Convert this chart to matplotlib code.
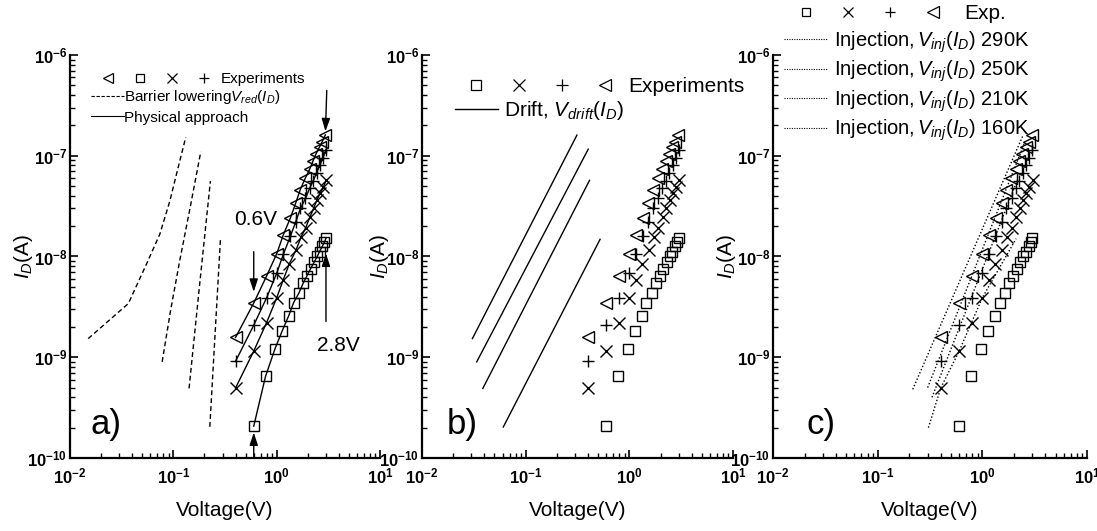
import matplotlib
matplotlib.use('Agg')
import matplotlib.pyplot as plt
from matplotlib.lines import Line2D
from matplotlib.legend_handler import HandlerTuple
from matplotlib.ticker import NullFormatter

plt.rcParams['font.family'] = 'Liberation Sans'
plt.rcParams['mathtext.fontset'] = 'custom'
plt.rcParams['mathtext.rm'] = 'Liberation Sans'
plt.rcParams['mathtext.it'] = 'Liberation Sans:italic'
plt.rcParams['mathtext.bf'] = 'Liberation Sans:bold'

# measured I-V curves (four temperatures)
v_tri = [0.4, 0.6, 0.8, 1.0, 1.16, 1.36, 1.53, 1.69, 1.89, 2.08, 2.24, 2.41, 2.6, 2.76, 2.96]
i_tri = [1.57e-9, 3.45e-9, 6.41e-9, 1.06e-8, 1.64e-8, 2.42e-8, 3.40e-8, 4.59e-8,
         5.97e-8, 7.3e-8, 8.8e-8, 1.05e-7, 1.22e-7, 1.38e-7, 1.61e-7]
v_plus = [0.4, 0.6, 0.8, 1.0, 1.16, 1.36, 1.53, 1.7, 1.9, 2.08, 2.26, 2.43, 2.62, 2.8, 3.0]
i_plus = [9.1e-10, 2.08e-9, 3.9e-9, 6.8e-9, 1.05e-8, 1.59e-8, 2.21e-8, 3.0e-8,
          3.77e-8, 4.73e-8, 5.65e-8, 6.7e-8, 8.1e-8, 9.4e-8, 1.15e-7]
v_x = [0.4, 0.6, 0.8, 1.0, 1.16, 1.33, 1.54, 1.72, 1.91, 2.09, 2.28, 2.45, 2.63, 2.82, 3.02]
i_x = [4.95e-10, 1.15e-9, 2.21e-9, 3.88e-9, 5.9e-9, 8.5e-9, 1.16e-8, 1.55e-8,
       1.93e-8, 2.44e-8, 3.0e-8, 3.63e-8, 4.23e-8, 4.84e-8, 5.73e-8]
v_sq = [0.6, 0.78, 0.96, 1.13, 1.31, 1.46, 1.65, 1.8, 1.97, 2.13, 2.3, 2.47, 2.6, 2.76, 2.9, 3.0]
i_sq = [2.07e-10, 6.45e-10, 1.2e-9, 1.82e-9, 2.59e-9, 3.49e-9, 4.38e-9, 5.4e-9,
        6.47e-9, 7.58e-9, 8.74e-9, 1.0e-8, 1.12e-8, 1.26e-8, 1.38e-8, 1.52e-8]

# barrier lowering V_red(I_D)
bl_v = [[0.0150, 0.0367, 0.0551, 0.0741, 0.0925, 0.111, 0.132],
        [0.078, 0.094, 0.1156, 0.144, 0.1845],
        [0.142, 0.180, 0.2285],
        [0.2255, 0.2857]]
bl_i = [[1.53e-9, 3.41e-9, 8.45e-9, 1.67e-8, 3.55e-8, 7.55e-8, 1.53e-7],
        [9.0e-10, 2.9e-9, 9.2e-9, 2.9e-8, 1.1e-7],
        [4.9e-10, 5.36e-9, 5.6e-8],
        [2.04e-10, 1.48e-8]]

# drift V_drift(I_D)
dr_v = [[0.0306, 0.312], [0.0337, 0.401], [0.0386, 0.413], [0.0608, 0.522]]
dr_i = [[1.53e-9, 1.6e-7], [9.0e-10, 1.16e-7], [4.9e-10, 5.7e-8], [2.03e-10, 1.48e-8]]

# injection V_inj(I_D)
inj_temps = ['290K', '250K', '210K', '160K']
inj_v = [[0.216, 2.45], [0.3, 2.5], [0.33, 2.2], [0.305, 0.4, 0.6, 1.0, 2.1]]
inj_i = [[4.8e-10, 1.6e-7], [5e-10, 1.3e-7], [4e-10, 6e-8],
         [2e-10, 4.95e-10, 1.15e-9, 3.9e-9, 1.5e-8]]

xticks = [1e-2, 1e-1, 1e0, 1e1]
xticklabels = [r'$\mathdefault{10^{-2}}$', r'$\mathdefault{10^{-1}}$',
               r'$\mathdefault{10^{0}}$', r'$\mathdefault{10^{1}}$']
yticks = [1e-10, 1e-9, 1e-8, 1e-7, 1e-6]
yticklabels = [r'$\mathdefault{10^{-10}}$', r'$\mathdefault{10^{-9}}$', r'$\mathdefault{10^{-8}}$',
               r'$\mathdefault{10^{-7}}$', r'$\mathdefault{10^{-6}}$']

series = [(v_tri, i_tri, '<', 9), (v_plus, i_plus, '+', 8),
          (v_x, i_x, 'x', 8), (v_sq, i_sq, 's', 6.5)]

fig = plt.figure(figsize=(10.97, 5.31), dpi=100)
ax_a = fig.add_axes([0.0638, 0.1375, 0.2826, 0.759])
ax_b = fig.add_axes([0.3847, 0.1375, 0.2835, 0.759])
ax_c = fig.add_axes([0.7047, 0.1375, 0.2862, 0.759])


def style_axes(ax, tag, tag_x, ylab_x):
    ax.set_xscale('log')
    ax.set_yscale('log')
    ax.set_xlim(1e-2, 1e1)
    ax.set_ylim(1e-10, 1e-6)
    ax.spines['top'].set_visible(False)
    ax.spines['right'].set_visible(False)
    for s in ['left', 'bottom']:
        ax.spines[s].set_linewidth(1.6)
    ax.set_xticks(xticks)
    ax.set_xticklabels(xticklabels, fontsize=12, fontweight='bold')
    ax.set_yticks(yticks)
    ax.set_yticklabels(yticklabels, fontsize=12, fontweight='bold')
    ax.xaxis.set_minor_formatter(NullFormatter())
    ax.yaxis.set_minor_formatter(NullFormatter())
    ax.tick_params(which='major', direction='in', length=6, width=1.2)
    ax.tick_params(which='minor', direction='in', length=3.5, width=1)
    ax.tick_params(axis='x', which='major', pad=6)
    ax.tick_params(axis='y', which='major', pad=2)
    ax.set_xlabel('Voltage(V)', fontsize=15, labelpad=11)
    ax.set_ylabel(r'$I_D$(A)', fontsize=15)
    ax.yaxis.set_label_coords(ylab_x, 0.5)
    ax.text(tag_x, 0.082, tag, transform=ax.transAxes, fontsize=25, va='center', ha='left')


def plot_points(ax, with_line=False):
    for v, i, m, ms in series:
        ax.plot(v, i, ls='-' if with_line else 'none', color='k', lw=1,
                marker=m, ms=ms, mfc='none', mec='k', mew=1)


def marker_tuple(order, ms):
    sizes = {'<': ms, 's': ms * 0.75, 'x': ms * 0.95, '+': ms * 0.95}
    return tuple(Line2D([], [], ls='none', marker=m, ms=sizes[m], mfc='none',
                        mec='k', mew=0.9) for m in order)


# ---- a) barrier lowering + physical approach
style_axes(ax_a, 'a)', 0.065, -0.112)
for v, i in zip(bl_v, bl_i):
    ax_a.plot(v, i, color='k', lw=1, ls=(0, (3.5, 2.2)))
plot_points(ax_a, with_line=True)

arrow = dict(arrowstyle='-|>,head_length=0.55,head_width=0.18', color='k', lw=1,
             mutation_scale=14, shrinkA=0)
ax_a.annotate('', xy=(v_tri[1], i_tri[1]), xytext=(0, 37), textcoords='offset points',
              arrowprops=dict(arrow, shrinkB=8))
ax_a.annotate('0.6V', xy=(v_tri[1], i_tri[1]), xytext=(1, 60), textcoords='offset points',
              fontsize=15, ha='center', va='center')
ax_a.annotate('', xy=(v_sq[0], i_sq[0]), xytext=(0, -23), textcoords='offset points',
              arrowprops=dict(arrow, shrinkB=4.5))
ax_a.annotate('', xy=(v_tri[-1], i_tri[-1]), xytext=(1, 32), textcoords='offset points',
              arrowprops=dict(arrow, shrinkB=2.5))
ax_a.annotate('', xy=(v_sq[-1], i_sq[-1]), xytext=(0, -60), textcoords='offset points',
              arrowprops=dict(arrow, shrinkB=11))
ax_a.annotate('2.8V', xy=(v_sq[-1], i_sq[-1]), xytext=(9, -77), textcoords='offset points',
              fontsize=15, ha='center', va='center')

leg = ax_a.legend(handles=[marker_tuple(['<', 's', 'x', '+'], 7.5)], labels=['Experiments'],
                  handler_map={tuple: HandlerTuple(ndivide=None, pad=0)},
                  handlelength=8.4, handletextpad=0.05, fontsize=11, frameon=False,
                  loc='center left', bbox_to_anchor=(0.071, 0.940),
                  borderpad=0, borderaxespad=0)
ax_a.add_artist(leg)
ax_a.legend(handles=[Line2D([], [], color='k', lw=0.8, ls=(0, (3, 1.5))),
                     Line2D([], [], color='k', lw=0.8)],
            labels=[r'Barrier lowering$V_{red}(I_D)$', 'Physical approach'],
            handlelength=2.15, handletextpad=0, fontsize=11, frameon=False,
            labelspacing=0.3, loc='upper left', bbox_to_anchor=(0.068, 0.918),
            borderpad=0, borderaxespad=0)

# ---- b) drift
style_axes(ax_b, 'b)', 0.08, -0.1)
for v, i in zip(dr_v, dr_i):
    ax_b.plot(v, i, color='k', lw=1)
plot_points(ax_b)
leg = ax_b.legend(handles=[marker_tuple(['s', 'x', '+', '<'], 9)], labels=['Experiments'],
                  handler_map={tuple: HandlerTuple(ndivide=None, pad=0)},
                  handlelength=8.27, handletextpad=0.07, fontsize=15, frameon=False,
                  loc='center left', bbox_to_anchor=(0.1045, 0.9206),
                  borderpad=0, borderaxespad=0)
ax_b.add_artist(leg)
ax_b.legend(handles=[Line2D([], [], color='k', lw=1)],
            labels=[r'Drift, $V_{drift}(I_D)$'],
            handlelength=2.07, handletextpad=0.3, fontsize=15, frameon=False,
            loc='center left', bbox_to_anchor=(0.106, 0.861),
            borderpad=0, borderaxespad=0)

# ---- c) injection
style_axes(ax_c, 'c)', 0.108, -0.111)
for v, i in zip(inj_v, inj_i):
    ax_c.plot(v, i, color='k', lw=1, ls=(0, (1, 1.5)))
plot_points(ax_c)
leg = ax_c.legend(handles=[marker_tuple(['s', 'x', '+', '<'], 8)], labels=['Exp.'],
                  handler_map={tuple: HandlerTuple(ndivide=None, pad=0)},
                  handlelength=8.1, handletextpad=0.5, fontsize=15, frameon=False,
                  loc='center left', bbox_to_anchor=(0.038, 1.102),
                  borderpad=0, borderaxespad=0)
ax_c.add_artist(leg)
ax_c.legend(handles=[Line2D([], [], color='k', lw=0.8, ls=(0, (1, 1.2))) for _ in inj_temps],
            labels=[r'Injection,$\,V_{inj}(I_D)$ ' + t for t in inj_temps],
            handlelength=2.15, handletextpad=0.35, fontsize=14.5, frameon=False,
            labelspacing=0.2, loc='upper left', bbox_to_anchor=(0.035, 1.064),
            borderpad=0, borderaxespad=0)

fig.savefig('out.png', dpi=100)
